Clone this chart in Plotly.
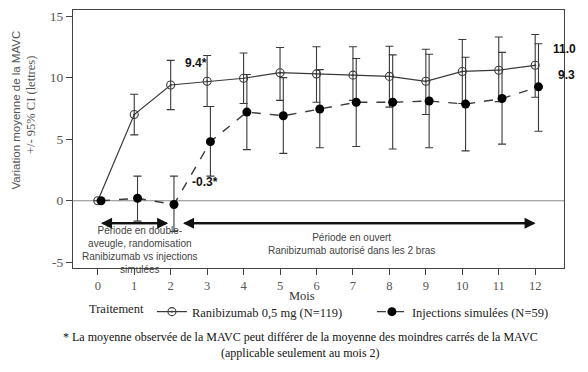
import plotly.graph_objects as go

months = list(range(13))

rani_mean = [0, 7.0, 9.4, 9.7, 9.95, 10.4, 10.3, 10.2, 10.1, 9.7, 10.5, 10.6, 11.0]
rani_upper = [None, 8.65, 11.4, 11.8, 12.0, 12.45, 12.5, 12.5, 12.55, 12.3, 13.1, 13.3, 13.5]
rani_lower = [None, 5.35, 7.4, 7.65, 7.9, 8.15, 8.0, 8.15, 7.6, 7.0, 7.9, 8.05, 8.4]

sham_mean = [0, 0.2, -0.3, 4.8, 7.2, 6.9, 7.45, 8.0, 8.0, 8.1, 7.85, 8.3, 9.25]
sham_upper = [None, 2.0, 2.0, 7.65, 10.25, 10.0, 10.65, 11.55, 11.85, 11.9, 11.65, 12.05, 12.75]
sham_lower = [None, -1.65, -2.5, 2.0, 4.15, 3.85, 4.3, 4.4, 4.2, 4.3, 4.05, 4.6, 5.65]

x_ticks = list(range(13))
y_ticks = [-5, 0, 5, 10, 15]

SERIF = "Liberation Serif, Times New Roman, serif"
SANS = "Liberation Sans, Arial, sans-serif"
DARK = "#3a3a3a"
GREY = "#555555"
OFFSET = 0.09


def plus(up, m):
    return [None if u is None else u - v for u, v in zip(up, m)]


def minus(lo, m):
    return [None if l is None else v - l for l, v in zip(lo, m)]


fig = go.Figure()

fig.add_trace(go.Scatter(
    x=months, y=rani_mean, mode="lines+markers",
    name="Ranibizumab 0,5 mg (N=119)",
    line=dict(color=DARK, width=1.2),
    marker=dict(symbol="circle-open-dot", size=8, color=DARK, line=dict(width=1.1)),
    error_y=dict(type="data", array=plus(rani_upper, rani_mean),
                 arrayminus=minus(rani_lower, rani_mean),
                 color=DARK, thickness=1.1, width=4),
))

fig.add_trace(go.Scatter(
    x=[m + OFFSET for m in months], y=sham_mean, mode="lines+markers",
    name="Injections simulées (N=59)",
    line=dict(color=DARK, width=1.4, dash="dash"),
    marker=dict(symbol="circle", size=9, color="#000000"),
    error_y=dict(type="data", array=plus(sham_upper, sham_mean),
                 arrayminus=minus(sham_lower, sham_mean),
                 color=DARK, thickness=1.1, width=4),
))

# zero line
fig.add_hline(y=0, line=dict(color="#8a8a8a", width=1), layer="below")

# period arrows
arrow_y = -1.82
for x0, x1 in [(0.09, 1.93), (2.34, 12.01)]:
    fig.add_annotation(x=x1, y=arrow_y, ax=x0, ay=arrow_y, xref="x", yref="y",
                       axref="x", ayref="y", showarrow=True, arrowhead=2,
                       arrowsize=1, arrowwidth=2.2, arrowcolor="#111111", text="")
    fig.add_annotation(x=x0, y=arrow_y, ax=x1, ay=arrow_y, xref="x", yref="y",
                       axref="x", ayref="y", showarrow=True, arrowhead=2,
                       arrowsize=1, arrowwidth=2.2, arrowcolor="#111111", text="")

fig.add_annotation(x=1.17, y=-4.0, xref="x", yref="y", showarrow=False,
                   text="Période en double-<br>aveugle, randomisation<br>Ranibizumab vs injections<br>simulées",
                   font=dict(family=SANS, size=10, color="#444444"), align="center")
fig.add_annotation(x=6.95, y=-3.55, xref="x", yref="y", showarrow=False,
                   text="Période en ouvert<br>Ranibizumab autorisé dans les 2 bras",
                   font=dict(family=SANS, size=10, color="#444444"), align="center")

# value labels
fig.add_annotation(x=2.7, y=11.2, xref="x", yref="y", showarrow=False, text="9.4*",
                   font=dict(family=SANS, size=12, color="#111111", weight="bold"))
fig.add_annotation(x=2.95, y=1.5, xref="x", yref="y", showarrow=False, text="-0.3*",
                   font=dict(family=SANS, size=12, color="#111111", weight="bold"))
fig.add_annotation(x=12.6, y=12.3, xref="x", yref="y", xshift=7, showarrow=False, text="11.0",
                   font=dict(family=SANS, size=12, color="#111111", weight="bold"))
fig.add_annotation(x=12.6, y=10.2, xref="x", yref="y", xshift=9, showarrow=False, text="9.3",
                   font=dict(family=SANS, size=12, color="#111111", weight="bold"))

# pixel-placed annotations (page coords, converted to paper coords below)
fig.add_annotation(x=15.5, y=110, xref="paper", yref="paper", showarrow=False,
                   text="Variation moyenne de la MAVC", textangle=-90,
                   font=dict(family=SANS, size=11.5, color=GREY))
fig.add_annotation(x=31, y=105, xref="paper", yref="paper", showarrow=False,
                   text="+/- 95% CI (lettres)", textangle=-90,
                   font=dict(family=SERIF, size=12.5, color=GREY))
fig.add_annotation(x=302, y=296, xref="paper", yref="paper", showarrow=False, text="Mois",
                   font=dict(family=SERIF, size=12.5, color="#333333"))
fig.add_annotation(x=300, y=337, xref="paper", yref="paper", showarrow=False,
                   text="* La moyenne observée de la MAVC peut différer de la moyenne des moindres carrés de la MAVC",
                   font=dict(family=SERIF, size=12, color="#111111"))
fig.add_annotation(x=300, y=353, xref="paper", yref="paper", showarrow=False,
                   text="(applicable seulement au mois 2)",
                   font=dict(family=SERIF, size=12, color="#111111"))

# page has an 8px body margin: the figure starts at (8, 8) in the window
PAGE_OFF = 8
W, H = 588 - PAGE_OFF, 372 - PAGE_OFF
L = 73 - PAGE_OFF
T = 10 - PAGE_OFF
R = W - (564 - PAGE_OFF)
B = H - (268 - PAGE_OFF)
pw, ph = W - L - R, H - T - B


def to_paper(px, py):
    return (px - PAGE_OFF - L) / pw, 1 - (py - PAGE_OFF - T) / ph


for a in fig.layout.annotations:
    if a.xref == "paper" and a.yref == "paper":
        a.x, a.y = to_paper(a.x, a.y)
        a.xanchor = "center"
        a.yanchor = "middle"

lx, ly = to_paper(87, 312)

fig.update_layout(
    width=W, height=H,
    margin=dict(l=L, r=R, t=T, b=B, autoexpand=False),
    paper_bgcolor="white", plot_bgcolor="white",
    showlegend=True,
    legend=dict(orientation="h", x=lx, xanchor="left",
                y=ly, yanchor="middle",
                title=dict(text="Traitement", side="left",
                           font=dict(family=SERIF, size=12.5, color="#222222")),
                font=dict(family=SERIF, size=12.5, color="#222222"),
                entrywidth=175, entrywidthmode="pixels",
                itemwidth=30, bgcolor="rgba(0,0,0,0)"),
    xaxis=dict(range=[-0.68, 12.79], tickvals=x_ticks, ticktext=[str(v) for v in x_ticks],
               showgrid=False, zeroline=False, ticks="outside", ticklen=6,
               tickcolor="#444444", showline=True, linecolor="#444444", linewidth=1.2,
               mirror=True, tickfont=dict(family=SERIF, size=12.5, color=GREY)),
    yaxis=dict(range=[-5.46, 15.49], tickvals=y_ticks, ticktext=[str(v) for v in y_ticks],
               showgrid=False, zeroline=False, ticks="outside", ticklen=6,
               tickcolor="#444444", showline=True, linecolor="#444444", linewidth=1.2,
               mirror=True, tickfont=dict(family=SERIF, size=13.5, color=GREY)),
)

fig.write_html("out.html")
